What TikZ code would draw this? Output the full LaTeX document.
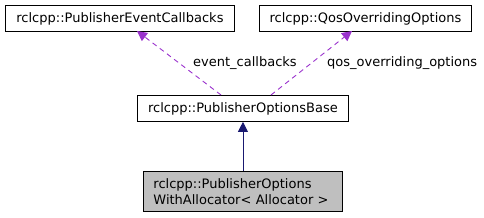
\documentclass[tikz,border=0pt]{standalone}
\usepackage{fontspec}
\setmainfont{DejaVu Sans}
\usetikzlibrary{arrows.meta}
\begin{document}
\begin{tikzpicture}[x=1pt,y=-1pt,
  box/.style={draw=black, line width=0.9pt, fill=white, inner sep=0pt, font=\fontsize{13}{15.5}\selectfont},
  inh/.style={draw=navy, line width=0.9pt, -{Triangle[length=10pt,width=10pt,fill=navy]}},
  use/.style={draw=orchid, line width=0.9pt, dash pattern=on 5pt off 4pt, -{Triangle[length=10pt,width=10pt,fill=orchid]}},
  lbl/.style={font=\fontsize{13}{15.5}\selectfont, inner sep=0pt}]
\definecolor{navy}{HTML}{191970}
\definecolor{orchid}{HTML}{9A32CD}
\useasboundingbox (0,0) rectangle (484,217);
\node[box, minimum width=229pt, minimum height=26pt, anchor=north west] (pec) at (5,5) {rclcpp::PublisherEventCallbacks};
\node[box, minimum width=212pt, minimum height=26pt, anchor=north west] (qos) at (259,5) {rclcpp::QosOverridingOptions};
\node[box, minimum width=211pt, minimum height=26pt, anchor=north west] (base) at (137,95) {rclcpp::PublisherOptionsBase};
\node[box, fill={rgb,255:red,191;green,191;blue,191}, minimum width=199pt, minimum height=40pt, anchor=north west, align=left, text width=179pt] (alloc) at (143,171) {rclcpp::PublisherOptions\\WithAllocator< Allocator >};
\coordinate (b1) at (221,95);
\coordinate (b2) at (271,95);
\coordinate (p1) at (137,31);
\coordinate (q1) at (352,31);
\draw[inh] (alloc.north) -- (base.south);
\draw[use] (b1) -- (p1);
\draw[use] (b2) -- (q1);
\node[lbl, anchor=west] (l1) at (193,63) {event\_callbacks};
\node[lbl, anchor=west] (l2) at (327,63) {qos\_overriding\_options};
\end{tikzpicture}
\end{document}
